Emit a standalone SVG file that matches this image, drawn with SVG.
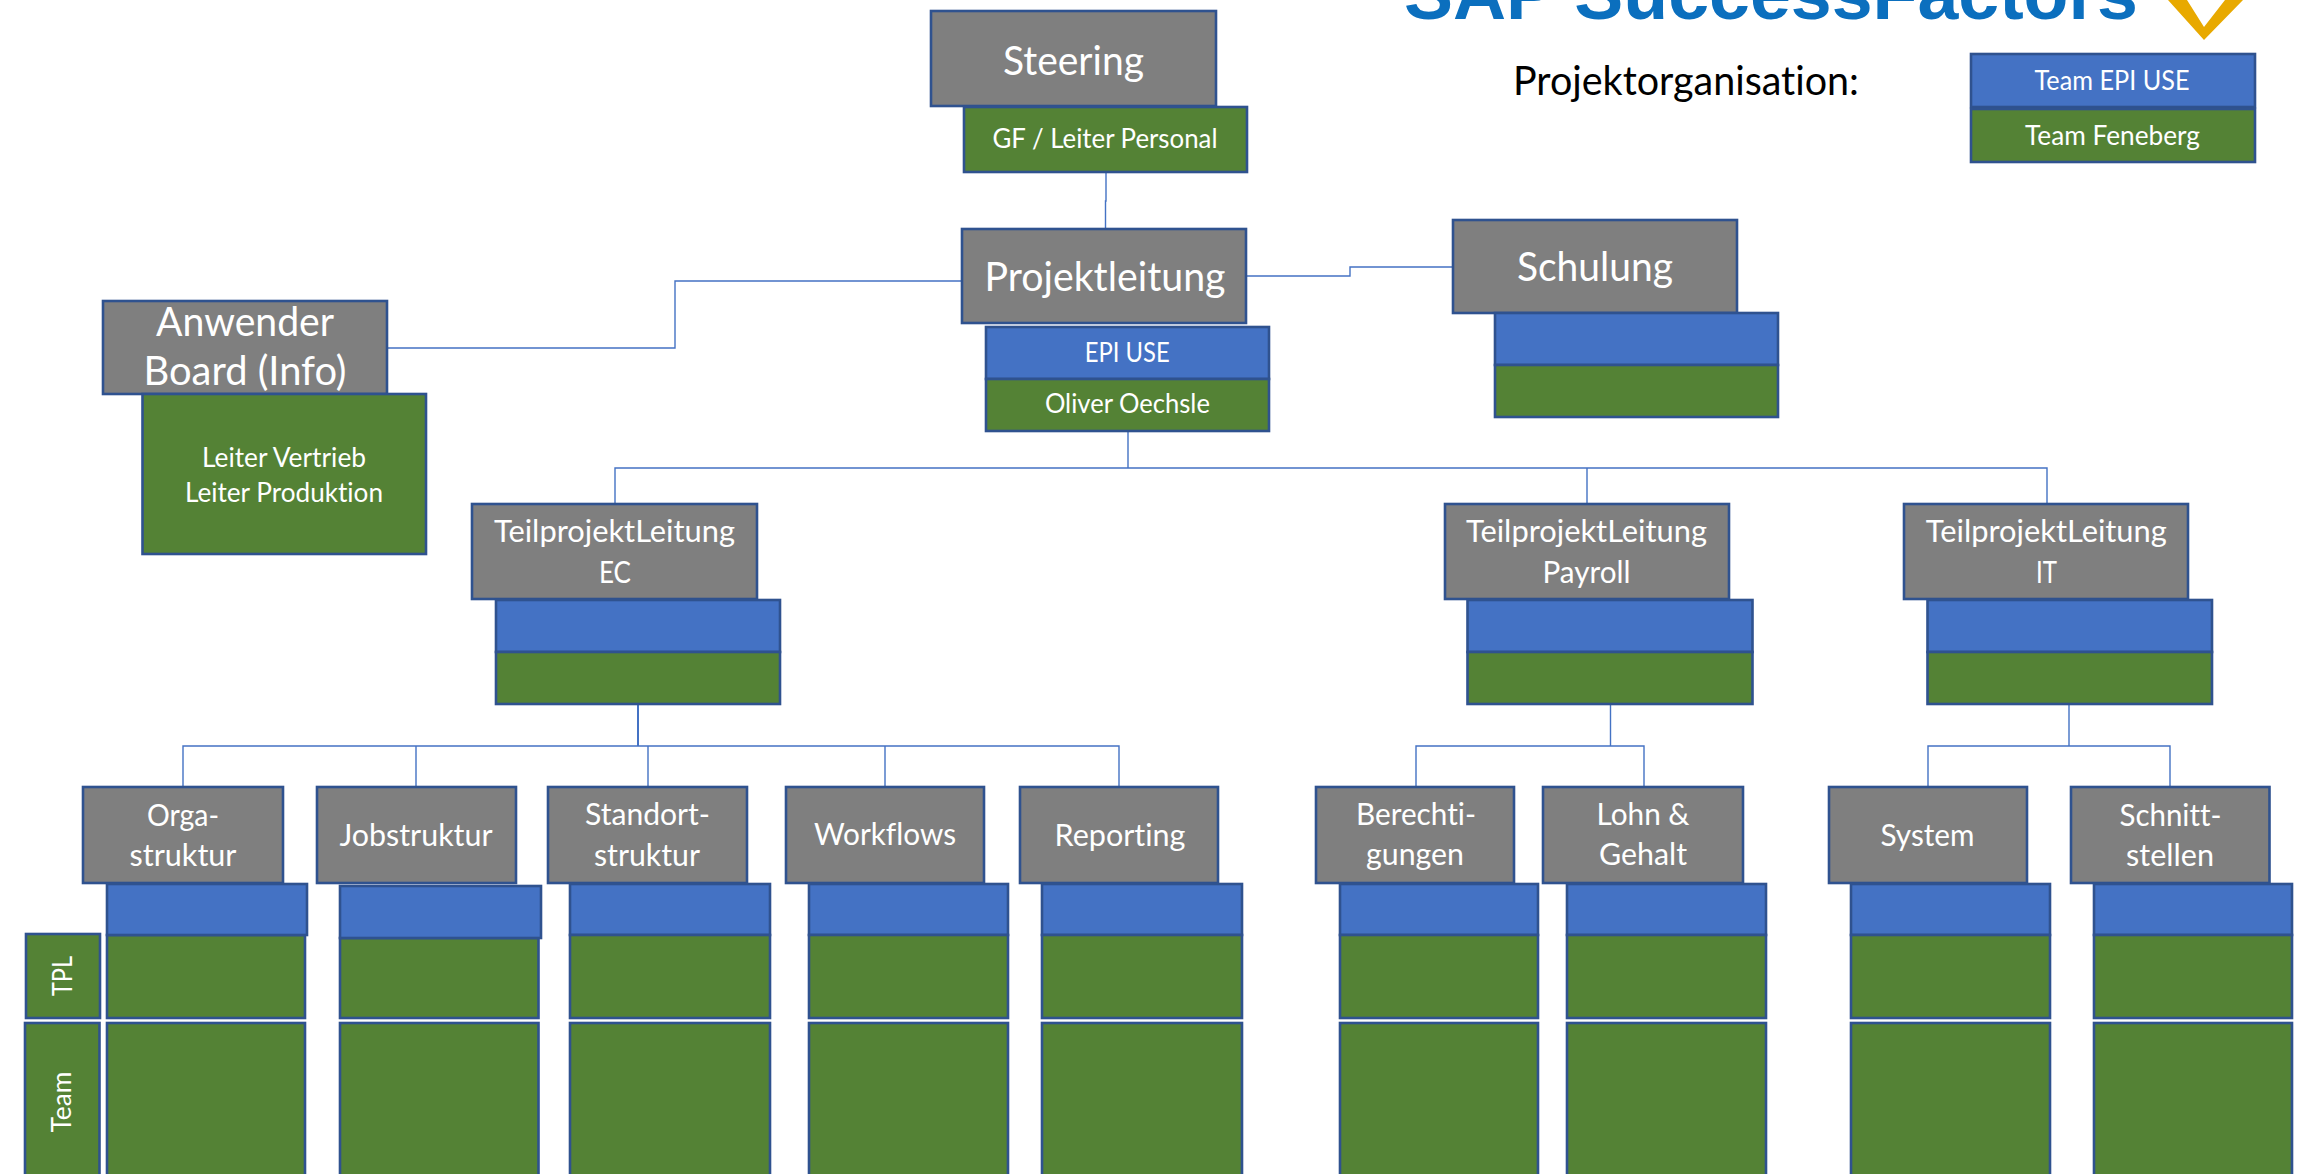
<svg xmlns="http://www.w3.org/2000/svg" width="2305" height="1174" viewBox="0 0 2305 1174">
<style>
.g{fill:#7F7F7F;stroke:#2F528F;stroke-width:2.6}
.b{fill:#4472C4;stroke:#2F528F;stroke-width:2.6}
.v{fill:#548235;stroke:#2F528F;stroke-width:2.6}
.c{fill:none;stroke:#4472C4;stroke-width:1.4}
text{font-family:Lato,"Noto Sans","Liberation Sans",sans-serif;fill:#fff;text-anchor:middle;font-variant-ligatures:none}
.l{font-size:41px}
.m{font-size:30px}
.s{font-size:27px}
</style>
<rect width="2305" height="1174" fill="#fff"/>
<g id="logo">
<text x="1404" y="19" style="font-family:'Liberation Sans',Arial,sans-serif;font-weight:700;font-size:73px;fill:#0B6FBE;text-anchor:start" textLength="734" lengthAdjust="spacingAndGlyphs">SAP SuccessFactors</text>
<path d="M2168 0L2204 40L2243 0H2225L2204 27L2187 0Z" fill="#E8A900"/>
</g>
<g id="connectors">
<path class="c" d="M1106 172V201H1105.500V229"/>
<path class="c" d="M962 281H675V348H387"/>
<path class="c" d="M1246 276H1350V267H1453"/>
<path class="c" d="M1128 431V468M615 504V468H2047V504M1587 468V504"/>
<path class="c" style="stroke-width:2" d="M638 704V746"/>
<path class="c" d="M183 787V746H1119V787M416 746V787M648 746V787M885 746V787"/>
<path class="c" d="M1610.500 704V746M1416 787V746H1644V787"/>
<path class="c" d="M2069 704V746M1928 787V746H2170V787"/>
</g>
<g id="legend">
<text x="1686" y="95" style="font-size:41px;fill:#000" textLength="346" lengthAdjust="spacingAndGlyphs">Projektorganisation:</text>
<g id="legend-epi"><rect class="b" x="1971" y="54" width="284" height="53"/><text class="s" x="2112" y="90" textLength="155" lengthAdjust="spacingAndGlyphs">Team EPI USE</text></g>
<g id="legend-feneberg"><rect class="v" x="1971" y="109" width="284" height="53"/><text class="s" x="2112.500" y="145" textLength="175" lengthAdjust="spacingAndGlyphs">Team Feneberg</text></g>
</g>
<g id="steering">
<rect class="g" x="931" y="11" width="285" height="95"/>
<text class="l" x="1073.500" y="75" textLength="141" lengthAdjust="spacingAndGlyphs">Steering</text>
<rect class="v" x="964" y="107" width="283" height="65"/>
<text class="s" x="1105" y="148" textLength="225" lengthAdjust="spacingAndGlyphs">GF / Leiter Personal</text>
</g>
<g id="projektleitung">
<rect class="g" x="962" y="229" width="284" height="94"/>
<text class="l" x="1105" y="291" textLength="241" lengthAdjust="spacingAndGlyphs">Projektleitung</text>
<rect class="b" x="986" y="327" width="283" height="52"/>
<text class="s" x="1127.300" y="362" textLength="85" lengthAdjust="spacingAndGlyphs">EPI USE</text>
<rect class="v" x="986" y="379" width="283" height="52"/>
<text class="s" x="1127.400" y="413" textLength="165" lengthAdjust="spacingAndGlyphs">Oliver Oechsle</text>
</g>
<g id="schulung">
<rect class="g" x="1453" y="220" width="284" height="93"/>
<text class="l" x="1595" y="281" textLength="156" lengthAdjust="spacingAndGlyphs">Schulung</text>
<rect class="b" x="1495" y="313" width="283" height="52"/>
<rect class="v" x="1495" y="365" width="283" height="52"/>
</g>
<g id="anwender">
<rect class="g" x="103" y="301" width="284" height="93"/>
<text class="l" x="245" y="336" textLength="178" lengthAdjust="spacingAndGlyphs">Anwender</text>
<text class="l" x="245" y="385" textLength="203" lengthAdjust="spacingAndGlyphs">Board (Info)</text>
<rect class="v" x="142.500" y="394" width="283.500" height="160"/>
<text class="s" x="284" y="467" textLength="164" lengthAdjust="spacingAndGlyphs">Leiter Vertrieb</text>
<text class="s" x="284" y="502" textLength="198" lengthAdjust="spacingAndGlyphs">Leiter Produktion</text>
</g>
<g id="tpl-ec">
<rect class="g" x="472" y="504" width="285" height="95"/>
<text class="m" x="614.500" y="542" textLength="241" lengthAdjust="spacingAndGlyphs">TeilprojektLeitung</text>
<text class="m" x="615" y="583" textLength="32" lengthAdjust="spacingAndGlyphs">EC</text>
<rect class="b" x="496" y="600" width="284" height="52"/>
<rect class="v" x="496" y="652" width="284" height="52"/>
</g>
<g id="tpl-payroll">
<rect class="g" x="1445" y="504" width="284" height="95"/>
<text class="m" x="1586.500" y="542" textLength="241" lengthAdjust="spacingAndGlyphs">TeilprojektLeitung</text>
<text class="m" x="1586.500" y="583" textLength="88" lengthAdjust="spacingAndGlyphs">Payroll</text>
<rect class="b" x="1467.500" y="600" width="285" height="52"/>
<rect class="v" x="1467.500" y="652" width="285" height="52"/>
</g>
<g id="tpl-it">
<rect class="g" x="1904" y="504" width="284" height="95"/>
<text class="m" x="2046.300" y="542" textLength="241" lengthAdjust="spacingAndGlyphs">TeilprojektLeitung</text>
<text class="m" x="2046.500" y="583" textLength="21" lengthAdjust="spacingAndGlyphs">IT</text>
<rect class="b" x="1927.500" y="600" width="284.500" height="52"/>
<rect class="v" x="1927.500" y="652" width="284.500" height="52"/>
</g>
<g id="label-tpl">
<rect class="v" x="26" y="934" width="74" height="84"/>
<text class="s" transform="translate(71.500 976) rotate(-90)" textLength="40" lengthAdjust="spacingAndGlyphs">TPL</text>
</g>
<g id="label-team">
<rect class="v" x="25" y="1023" width="74.500" height="160"/>
<text class="s" transform="translate(71 1102) rotate(-90)" textLength="61" lengthAdjust="spacingAndGlyphs">Team</text>
</g>
<g id="orgastruktur">
<rect class="g" x="83" y="787" width="200" height="96"/>
<text class="m" x="183" y="826" textLength="72" lengthAdjust="spacingAndGlyphs">Orga-</text>
<text class="m" x="183" y="866" textLength="107" lengthAdjust="spacingAndGlyphs">struktur</text>
<rect class="v" x="107" y="935" width="198" height="83"/>
<rect class="b" x="107" y="884" width="200" height="51"/>
<rect class="v" x="107" y="1023" width="198" height="160"/>
</g>
<g id="jobstruktur">
<rect class="g" x="317" y="787" width="199" height="96"/>
<text class="m" x="416" y="846" textLength="153" lengthAdjust="spacingAndGlyphs">Jobstruktur</text>
<rect class="v" x="340" y="938" width="198.500" height="80"/>
<rect class="b" x="340" y="886" width="201" height="52"/>
<rect class="v" x="340" y="1023" width="198.500" height="160"/>
</g>
<g id="standortstruktur">
<rect class="g" x="548" y="787" width="199" height="96"/>
<text class="m" x="647.500" y="825" textLength="125" lengthAdjust="spacingAndGlyphs">Standort-</text>
<text class="m" x="647" y="866" textLength="106" lengthAdjust="spacingAndGlyphs">struktur</text>
<rect class="b" x="570" y="884" width="200" height="51"/>
<rect class="v" x="570" y="935" width="200" height="83"/>
<rect class="v" x="570" y="1023" width="200" height="160"/>
</g>
<g id="workflows">
<rect class="g" x="786" y="787" width="198" height="96"/>
<text class="m" x="885" y="845" textLength="142" lengthAdjust="spacingAndGlyphs">Workflows</text>
<rect class="b" x="809" y="884" width="199" height="51"/>
<rect class="v" x="809" y="935" width="199" height="83"/>
<rect class="v" x="809" y="1023" width="199" height="160"/>
</g>
<g id="reporting">
<rect class="g" x="1020" y="787" width="198" height="96"/>
<text class="m" x="1120" y="846" textLength="131" lengthAdjust="spacingAndGlyphs">Reporting</text>
<rect class="b" x="1042" y="884" width="200" height="51"/>
<rect class="v" x="1042" y="935" width="200" height="83"/>
<rect class="v" x="1042" y="1023" width="200" height="160"/>
</g>
<g id="berechtigungen">
<rect class="g" x="1316" y="787" width="198" height="96"/>
<text class="m" x="1416" y="825" textLength="120" lengthAdjust="spacingAndGlyphs">Berechti-</text>
<text class="m" x="1415" y="865" textLength="98" lengthAdjust="spacingAndGlyphs">gungen</text>
<rect class="b" x="1340" y="884" width="198" height="51"/>
<rect class="v" x="1340" y="935" width="198" height="83"/>
<rect class="v" x="1340" y="1023" width="198" height="160"/>
</g>
<g id="lohn-gehalt">
<rect class="g" x="1543" y="787" width="200" height="96"/>
<text class="m" x="1643" y="825" textLength="93" lengthAdjust="spacingAndGlyphs">Lohn &amp;</text>
<text class="m" x="1643" y="865" textLength="88" lengthAdjust="spacingAndGlyphs">Gehalt</text>
<rect class="b" x="1567" y="884" width="199" height="51"/>
<rect class="v" x="1567" y="935" width="199" height="83"/>
<rect class="v" x="1567" y="1023" width="199" height="160"/>
</g>
<g id="system">
<rect class="g" x="1829" y="787" width="198" height="96"/>
<text class="m" x="1927.500" y="846" textLength="94" lengthAdjust="spacingAndGlyphs">System</text>
<rect class="b" x="1851" y="884" width="199" height="51"/>
<rect class="v" x="1851" y="935" width="199" height="83"/>
<rect class="v" x="1851" y="1023" width="199" height="160"/>
</g>
<g id="schnittstellen">
<rect class="g" x="2071" y="787" width="198.500" height="96"/>
<text class="m" x="2170.500" y="826" textLength="102" lengthAdjust="spacingAndGlyphs">Schnitt-</text>
<text class="m" x="2170" y="866" textLength="88" lengthAdjust="spacingAndGlyphs">stellen</text>
<rect class="b" x="2094" y="884" width="198" height="51"/>
<rect class="v" x="2094" y="935" width="198" height="83"/>
<rect class="v" x="2094" y="1023" width="198" height="160"/>
</g>
</svg>
